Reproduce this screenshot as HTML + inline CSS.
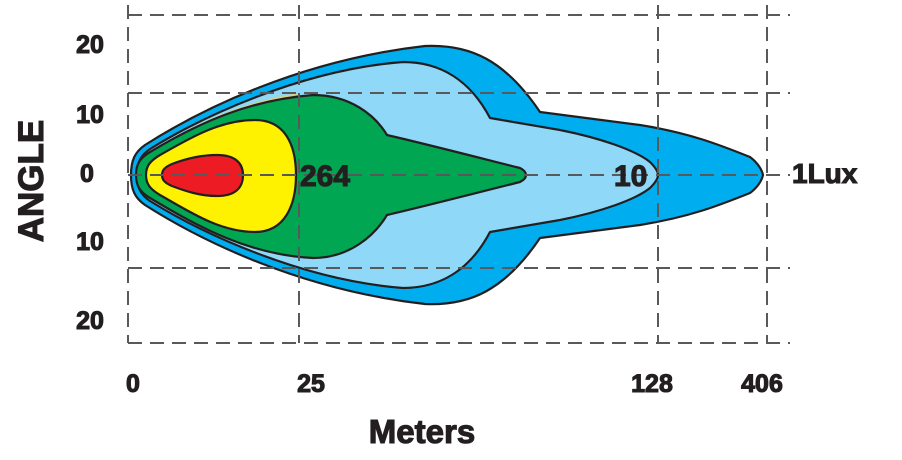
<!DOCTYPE html>
<html><head><style>
html,body{margin:0;padding:0;background:#fff;}
svg{display:block;}
text{font-family:"Liberation Sans",Arial,sans-serif;font-weight:bold;fill:#231f20;stroke:#231f20;stroke-width:1.1;}
</style></head><body>
<svg width="902" height="460" viewBox="0 0 902 460" xmlns="http://www.w3.org/2000/svg">
<g stroke="#231f20" stroke-width="2.2" stroke-linejoin="round">
<path fill="#00adef" d="M131,175 C131,160 135,152 145,145 C200,110 300,60 425,46 C470,44 505,60 540,112 L640,125 C690,133 720,145 750,157 C758,163 762,170 763,175 C762,180 758,187 750,193 C720,205 690,217 640,225 L540,238 C505,290 470,306 425,304 C300,290 200,240 145,205 C135,198 131,190 131,175 Z"/>
<path fill="#8fd8f8" d="M137,175 C137,162 141,155 150,149 C200,118 300,70 403,62 C440,62 470,80 490,118 L560,130 C600,138 635,150 650,162 C656,168 658,172 658,175 C658,178 656,182 650,188 C635,200 600,212 560,220 L490,232 C470,270 440,288 403,288 C300,280 200,232 150,201 C141,195 137,188 137,175 Z"/>
</g>
<path fill="#d8d088" d="M140,175 C140,162 146,155 160,146 C200,120 250,100 300,93 L300,257 C250,250 200,230 160,204 C146,195 140,188 140,175 Z"/>
<g stroke="#231f20" stroke-width="2.2" stroke-linejoin="round">
<path fill="#00a651" d="M136,175 C136,164 140,158 150,152 C200,122 250,100 313,95 C350,95 375,115 387,135 C430,145 480,158 520,168 C528,172 528,178 520,182 C480,192 430,205 387,215 C375,235 350,258 313,258 C250,255 200,228 150,198 C140,192 136,186 136,175 Z"/>
<path fill="#fff200" d="M146,175 C146,166 150,161 160,155 C190,138 220,120 255,120 C285,120 296,145 296,175 C296,205 285,232 255,232 C220,232 190,212 160,195 C150,189 146,184 146,175 Z"/>
<path fill="#ed1c24" d="M162,175 C162,170 165,167 172,164 C185,159 200,155 217,155 C235,155 243,163 243,175 C243,188 235,196 217,196 C200,196 185,191 172,186 C165,183 162,180 162,175 Z"/>
</g>
<g stroke="#58595b" stroke-width="2" stroke-dasharray="14,8" fill="none">
<line x1="128" y1="15" x2="790" y2="15"/>
<line x1="128" y1="93" x2="790" y2="93"/>
<line x1="128" y1="175" x2="790" y2="175"/>
<line x1="128" y1="268" x2="790" y2="268"/>
<line x1="128" y1="343" x2="790" y2="343"/>
<line x1="128" y1="5" x2="128" y2="343"/>
<line x1="299" y1="5" x2="299" y2="343"/>
<line x1="658" y1="5" x2="658" y2="343"/>
<line x1="767" y1="5" x2="767" y2="343"/>
</g>
<g font-size="25" text-anchor="middle">
<text x="90" y="53">20</text>
<text x="90" y="123">10</text>
<text x="87" y="182">0</text>
<text x="90" y="250">10</text>
<text x="90" y="329">20</text>
<text x="133" y="392">0</text>
<text x="311" y="392">25</text>
<text x="652" y="392">128</text>
<text x="762" y="392">406</text>
</g>
<text x="300" y="186" font-size="30">264</text>
<text x="614" y="186" font-size="30">10</text>
<text x="792" y="183" font-size="28">1Lux</text>
<text x="422" y="443" font-size="33" text-anchor="middle">Meters</text>
<text transform="translate(43,181) rotate(-90)" font-size="35" text-anchor="middle">ANGLE</text>
</svg>
</body></html>
